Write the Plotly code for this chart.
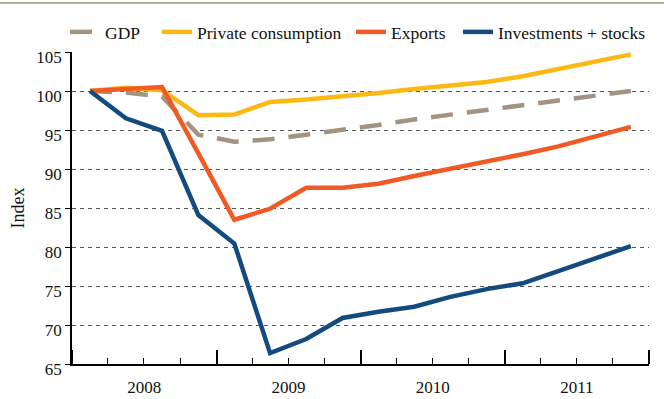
import pandas as pd
import plotly.graph_objects as go

# Quarterly index values (2008Q1 = 100)
quarters = ["2008Q1", "2008Q2", "2008Q3", "2008Q4",
            "2009Q1", "2009Q2", "2009Q3", "2009Q4",
            "2010Q1", "2010Q2", "2010Q3", "2010Q4",
            "2011Q1", "2011Q2", "2011Q3", "2011Q4"]
gdp = [100, 99.8, 99.3, 94.4, 93.5, 93.8, 94.4, 95.0,
       95.65, 96.35, 96.95, 97.6, 98.25, 98.8, 99.35, 100.0]
private_consumption = [100, 100.4, 100.1, 96.9, 97.0, 98.6, 98.9, 99.3,
                       99.75, 100.25, 100.7, 101.15, 101.9, 102.8, 103.7, 104.7]
exports = [100, 100.2, 100.5, 92.0, 83.5, 84.9, 87.6, 87.6,
           88.1, 89.1, 90.0, 90.9, 91.9, 92.9, 94.1, 95.4]
investments = [100, 96.5, 94.9, 84.1, 80.45, 66.4, 68.2, 70.9,
               71.7, 72.35, 73.6, 74.6, 75.35, 76.9, 78.5, 80.1]

series_names = ["GDP", "Private consumption", "Exports", "Investments + stocks"]
y_ticks = [65, 70, 75, 80, 85, 90, 95, 100, 105]

# place each quarter at the middle of its period on a date axis
def mid_quarter(label):
    p = pd.Period(label, freq="Q")
    return p.start_time + (p.end_time - p.start_time) / 2

x = [mid_quarter(q) for q in quarters]

FONT = "Liberation Serif"
TXT = "#111111"

# plot area geometry in pixels (used to place legends and the top rule)
L, R, T, B = 72, 15, 52, 35
W, H = 664, 399
PW, PH = W - L - R, H - T - B

def px_x(px):
    return (px - L) / PW

def px_y(py):
    return (H - B - py) / PH

styles = [
    dict(color="#a39482", width=4.5, dash="22px,14px"),
    dict(color="#fdb913", width=4.5),
    dict(color="#f15a24", width=4.5),
    dict(color="#134b7f", width=4.5),
]
values = [gdp, private_consumption, exports, investments]
legend_ids = ["legend", "legend2", "legend3", "legend4"]
legend_left = [65, 157, 351, 458]

fig = go.Figure()
for name, vals, st, lg in zip(series_names, values, styles, legend_ids):
    fig.add_trace(go.Scatter(x=x, y=vals, name=name, mode="lines",
                             line=st, legend=lg))

legend_layout = {}
for lg, left in zip(legend_ids, legend_left):
    legend_layout[lg] = dict(
        orientation="h", x=px_x(left), xanchor="left",
        y=px_y(32), yanchor="middle",
        font=dict(family=FONT, size=17.5, color=TXT),
        bgcolor="rgba(0,0,0,0)", itemwidth=30,
    )

fig.update_layout(
    width=W, height=H,
    margin=dict(l=L, r=R, t=T, b=B, autoexpand=False),
    paper_bgcolor="white", plot_bgcolor="white",
    font=dict(family=FONT, size=17, color=TXT),
    showlegend=True,
    **legend_layout,
    xaxis=dict(
        type="date", range=["2008-01-01", "2012-01-01"],
        tick0="2008-01-01", dtick="M12", tickformat="%Y", ticklabelmode="period",
        ticks="inside", ticklen=14, tickwidth=1.5, tickcolor="black",
        ticklabelstandoff=7,
        showline=True, linecolor="black", linewidth=1.5,
        showgrid=False, zeroline=False,
        tickfont=dict(family=FONT, size=17, color=TXT),
        minor=dict(dtick="M3", tick0="2008-01-01", ticks="inside", ticklen=6,
                   tickwidth=1.2, tickcolor="black", showgrid=False),
    ),
    yaxis=dict(
        range=[65, 105], tickvals=y_ticks,
        ticks="outside", ticklen=5, tickwidth=1.2, tickcolor="black",
        ticklabelshift=5,
        showline=True, linecolor="black", linewidth=1.5,
        showgrid=True, gridcolor="#555555", gridwidth=1, griddash="4px,4px",
        zeroline=False,
        tickfont=dict(family=FONT, size=17, color=TXT),
        title=dict(text="Index", standoff=7,
                   font=dict(family=FONT, size=18, color=TXT)),
    ),
)

# thin rule across the top of the figure
fig.add_shape(type="line", xref="paper", yref="paper",
              x0=px_x(0), x1=px_x(W), y0=px_y(3), y1=px_y(3),
              line=dict(color="#9a9286", width=1.5))

fig.write_html("out.html")
